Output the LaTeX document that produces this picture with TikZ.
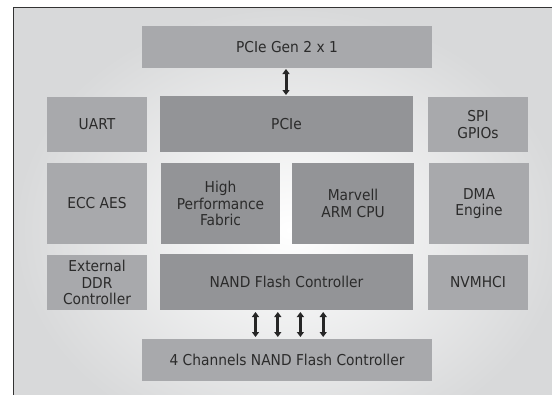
\documentclass[tikz,border=0pt]{standalone}
\usepackage{fontspec}
\setmainfont{DejaVu Sans}[FakeStretch=0.92]
\usepackage{tikz}
\usetikzlibrary{arrows.meta, positioning, calc}
\definecolor{boxlight}{HTML}{A8A9AC}
\definecolor{boxdark}{HTML}{939497}
\definecolor{txtgray}{HTML}{2B2B2B}
\definecolor{edgegray}{HTML}{D8D9DA}
\tikzset{
    block/.style={ % Sets the properties for each block
    fill=boxlight,
    inner sep=0pt, outer sep=0pt,
    align=center,
    text=txtgray,
    font=\fontsize{15}{16.2}\selectfont},
    coreblock/.style={block, fill=boxdark}, % Darker blocks in the core
    biarrow/.style={ % Thick two-way arrows
    draw=black!85,
    line width=3pt,
    {Triangle[length=5pt,width=7pt]}-{Triangle[length=5pt,width=7pt]}}}
\begin{document}
\begin{tikzpicture}[x=1pt, y=-1pt]
    \useasboundingbox (0, 0) rectangle (552, 394);
    \clip (0, 0) rectangle (552, 394);

    % Background frame
    \shade[inner color=white, outer color=edgegray] (13.7, 7) rectangle (566, 453);
    \draw[black!80, line width=1pt] (13.7, 453) -- (13.7, 7) -- (566, 7);

    % Host interface
    \node[block, minimum width=290pt, minimum height=42pt] (gen) at (287, 47) {PCIe Gen 2 x 1};

    % Controller blocks
    \node[block, minimum width=100pt, minimum height=55pt] (uart) at (97, 124.5) {UART};
    \node[coreblock, minimum width=253pt, minimum height=56pt] (pcie) at (286.5, 124) {PCIe};
    \node[block, minimum width=100pt, minimum height=55pt] (spi) at (478, 124.5) {SPI\\GPIOs};

    \node[block, minimum width=100pt, minimum height=81pt] (ecc) at (97, 203.5) {ECC AES};
    \node[coreblock, minimum width=119pt, minimum height=81pt] (fabric) at (220.5, 203.5) {High\\Performance\\Fabric};
    \node[coreblock, minimum width=122pt, minimum height=81pt] (cpu) at (353, 203.5) {Marvell\\ARM CPU};
    \node[block, minimum width=100pt, minimum height=81pt] (dma) at (479, 203.5) {DMA\\Engine};

    \node[block, minimum width=100pt, minimum height=55pt] (ddr) at (97, 282.5) {External\\DDR\\Controller};
    \node[coreblock, minimum width=253pt, minimum height=56pt] (nand) at (286.5, 282) {NAND Flash Controller};
    \node[block, minimum width=100pt, minimum height=55pt] (nvm) at (478, 282.5) {NVMHCI};

    % Flash channels
    \node[block, minimum width=290pt, minimum height=42pt] (chan) at (287, 360) {4 Channels NAND Flash Controller};

    % Connections
    \draw[biarrow, shorten <=1pt, shorten >=1pt] (gen.south -| 286, 0) -- (pcie.north -| 286, 0);
    \foreach \dx in {-31, -8.7, 13.9, 36.7}
        \draw[biarrow, shorten <=2pt, shorten >=2pt] ([xshift=\dx pt]nand.south) -- ([xshift=\dx pt]nand.south |- chan.north);
\end{tikzpicture}
\end{document}
